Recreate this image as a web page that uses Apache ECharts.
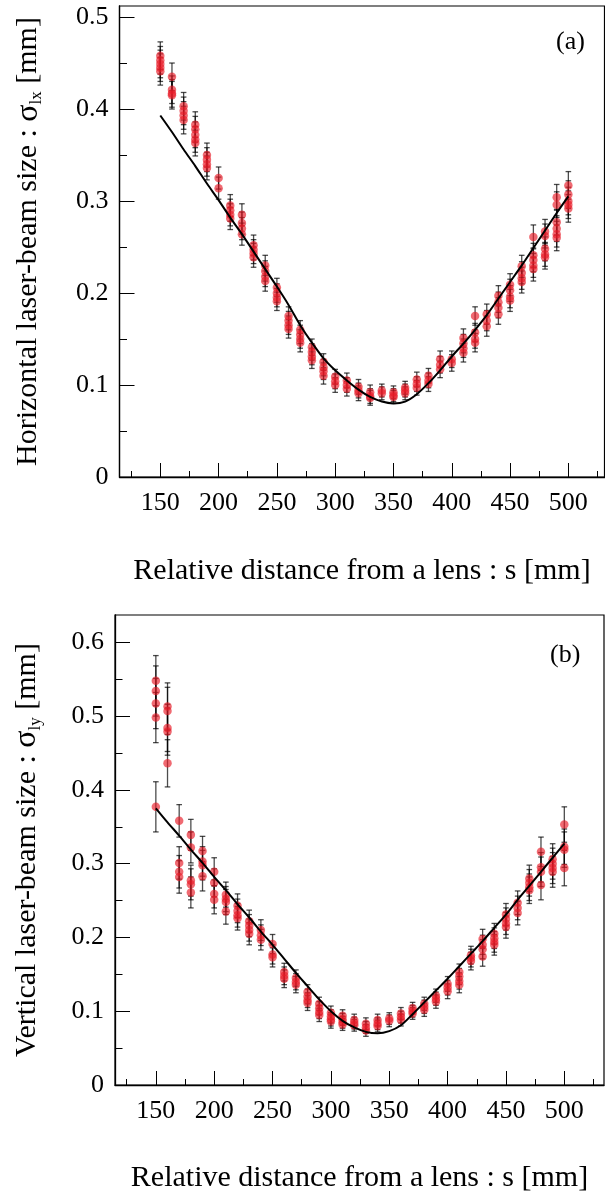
<!DOCTYPE html>
<html><head><meta charset="utf-8">
<script src="https://cdn.jsdelivr.net/npm/echarts@6/dist/echarts.min.js"></script>
<style>html,body{margin:0;padding:0;background:#fff}#c{width:605px;height:1196px}</style>
</head><body><div id="c"></div>
<script>
// Positions along the beam line (mm)
const positions = [150,160,170,180,190,200,210,220,230,240,250,260,270,280,290,300,310,320,330,340,350,360,370,380,390,400,410,420,430,440,450,460,470,480,490,500];
const xTickLabels = [150,200,250,300,350,400,450,500];
const xMinorTicks = [125,175,225,275,325,375,425,475,525];

// Panel (a): horizontal beam size measurements (mm)
const valsA = [
[0.458,0.453,0.449,0.445,0.441],[0.435,0.421,0.417,0.415],[0.403,0.398,0.393,0.388],[0.383,0.378,0.372,0.367,0.363],
[0.350,0.345,0.340,0.336],[0.325,0.314],[0.295,0.290,0.285,0.281],[0.285,0.276,0.270,0.264],
[0.252,0.247,0.243,0.239],[0.230,0.224,0.218,0.213],[0.206,0.200,0.195,0.191],[0.175,0.170,0.165,0.161],
[0.160,0.155,0.150,0.146],[0.141,0.136,0.131,0.127],[0.125,0.119,0.115,0.110],[0.109,0.104,0.100],
[0.105,0.100,0.096],[0.098,0.094,0.091],[0.092,0.088,0.086],[0.094,0.091],
[0.092,0.089,0.087],[0.097,0.094,0.091],[0.106,0.101,0.097],[0.110,0.105,0.101],
[0.128,0.122,0.117],[0.128,0.124],[0.151,0.145,0.140,0.135],[0.175,0.157,0.150,0.146],
[0.177,0.170,0.164],[0.197,0.190,0.184,0.177],[0.209,0.203,0.196,0.192],[0.229,0.222,0.216,0.212],
[0.261,0.241,0.236,0.230,0.226],[0.267,0.262,0.248,0.242,0.239],[0.304,0.296,0.277,0.270,0.264,0.260],[0.317,0.307,0.300,0.296,0.292]
];
const errA = [0.015,0.015,0.015,0.014,0.013,0.012,0.012,0.012,0.011,0.011,0.010,0.010,0.010,0.009,0.009,0.008,0.008,0.008,0.008,0.007,0.007,0.007,0.008,0.008,0.009,0.009,0.010,0.010,0.011,0.011,0.012,0.012,0.013,0.013,0.014,0.015];
const fitA = [0.393,0.375,0.356,0.338,0.319,0.301,0.282,0.264,0.245,0.226,0.207,0.187,0.165,0.146,0.129,0.116,0.105,0.095,0.087,0.082,0.080,0.082,0.090,0.102,0.116,0.131,0.145,0.160,0.176,0.194,0.212,0.230,0.249,0.268,0.287,0.305];

// Panel (b): vertical beam size measurements (mm)
const valsB = [
[0.548,0.534,0.517,0.498,0.377],[0.513,0.507,0.484,0.479,0.436],[0.358,0.301,0.289,0.282],[0.339,0.322,0.277,0.272,0.261],
[0.317,0.303,0.298,0.283],[0.289,0.274,0.259,0.251],[0.258,0.252,0.248,0.235],[0.243,0.236,0.230,0.226],
[0.222,0.216,0.210,0.205],[0.210,0.203,0.197],[0.191,0.177,0.173],[0.153,0.148,0.144],
[0.145,0.140,0.136],[0.126,0.120,0.115,0.111],[0.110,0.104,0.099,0.095],[0.098,0.093,0.089,0.086],
[0.094,0.089,0.085,0.082],[0.088,0.084,0.081],[0.083,0.078,0.074],[0.088,0.083,0.080],
[0.090,0.087],[0.097,0.092,0.088],[0.104,0.100,0.097],[0.110,0.106,0.102],
[0.121,0.117,0.113],[0.137,0.132,0.127],[0.153,0.147,0.141,0.136],[0.176,0.172,0.168],
[0.198,0.190,0.184,0.174],[0.205,0.199,0.194,0.190],[0.231,0.225,0.219,0.214],[0.247,0.240,0.233],
[0.280,0.274,0.268,0.264],[0.316,0.295,0.289,0.271],[0.306,0.300,0.294,0.289],[0.353,0.323,0.319,0.294]
];
const errB = [0.034,0.032,0.022,0.021,0.020,0.019,0.017,0.016,0.015,0.014,0.013,0.012,0.011,0.010,0.009,0.009,0.008,0.008,0.008,0.008,0.008,0.008,0.008,0.009,0.009,0.010,0.011,0.012,0.013,0.014,0.015,0.016,0.018,0.020,0.021,0.024];
const fitB = [0.375,0.356,0.338,0.319,0.301,0.282,0.264,0.245,0.227,0.208,0.190,0.171,0.152,0.134,0.116,0.100,0.087,0.078,0.072,0.070,0.073,0.081,0.096,0.112,0.128,0.144,0.161,0.178,0.195,0.213,0.231,0.251,0.270,0.289,0.308,0.327];

const yTicksA = [0,0.1,0.2,0.3,0.4,0.5];
const yMinorA = [0.05,0.15,0.25,0.35,0.45];
const yTicksB = [0,0.1,0.2,0.3,0.4,0.5,0.6];
const yMinorB = [0.05,0.15,0.25,0.35,0.45,0.55];

const FONT = 'Liberation Serif';
const chart = echarts.init(document.getElementById('c'));

function xAxes(gi, xmin, xmax, gap) {
  return [
    {type:'value', gridIndex:gi, position:'bottom', min:xmin, max:xmax,
     axisLine:{show:true, onZero:false, lineStyle:{color:'#000', width:1.3}},
     axisTick:{show:true, inside:true, length:14, customValues:xTickLabels, lineStyle:{color:'#000', width:1}},
     axisLabel:{show:true, customValues:xTickLabels, margin:13, fontFamily:FONT, fontSize:26, color:'#000'},
     splitLine:{show:false},
     name:'Relative distance from a lens : s [mm]', nameLocation:'middle', nameGap:gap,
     nameTextStyle:{fontFamily:FONT, fontSize:30, color:'#000'}},
    {type:'value', gridIndex:gi, position:'bottom', min:xmin, max:xmax,
     axisLine:{show:false}, axisLabel:{show:false}, splitLine:{show:false},
     axisTick:{show:true, inside:true, length:6, customValues:xMinorTicks, lineStyle:{color:'#000', width:1}}}
  ];
}
function yAxes(gi, ymax, ticks, minor, nameRich, gap) {
  return [
    {type:'value', gridIndex:gi, position:'left', min:0, max:ymax,
     axisLine:{show:true, onZero:false, lineStyle:{color:'#000', width:1.3}},
     axisTick:{show:true, inside:true, length:15, customValues:ticks, lineStyle:{color:'#000', width:1}},
     axisLabel:{show:true, customValues:ticks, margin:11, fontFamily:FONT, fontSize:26, color:'#000',
       formatter: v => v===0 ? '0' : v.toFixed(1)},
     splitLine:{show:false},
     name:nameRich, nameLocation:'middle', nameRotate:90, nameGap:gap,
     nameTextStyle:{fontFamily:FONT, fontSize:30, color:'#000',
       rich:{t:{fontFamily:FONT, fontSize:30, lineHeight:34, verticalAlign:'middle'},
             g:{fontFamily:FONT, fontSize:32, lineHeight:34, verticalAlign:'middle'},
             sub:{fontFamily:FONT, fontSize:17, lineHeight:17, verticalAlign:'bottom'}}}},
    {type:'value', gridIndex:gi, position:'left', min:0, max:ymax,
     axisLine:{show:false}, axisLabel:{show:false}, splitLine:{show:false},
     axisTick:{show:true, inside:true, length:7.5, customValues:minor, lineStyle:{color:'#000', width:1}}}
  ];
}

function pointData(vals) {
  const d = [];
  positions.forEach((s,i)=>vals[i].forEach(v=>d.push([s,v])));
  return d;
}
function errData(vals, errs) {
  const d = [];
  positions.forEach((s,i)=>vals[i].forEach(v=>d.push([s, v-errs[i], v+errs[i]])));
  return d;
}
function errSeries(gi, vals, errs) {
  return {type:'custom', xAxisIndex:gi*2, yAxisIndex:gi*2, z:3, silent:true, clip:false,
    data: errData(vals, errs), encode:{x:0, y:[1,2]},
    renderItem(params, api) {
      const x = api.value(0), lo = api.value(1), hi = api.value(2);
      const p1 = api.coord([x, lo]), p2 = api.coord([x, hi]);
      const w = 2.8, st = {stroke:'rgba(0,0,0,0.7)', lineWidth:1.3};
      return {type:'group', children:[
        {type:'line', shape:{x1:p1[0], y1:p1[1], x2:p2[0], y2:p2[1]}, style:st},
        {type:'line', shape:{x1:p1[0]-w, y1:p1[1], x2:p1[0]+w, y2:p1[1]}, style:st},
        {type:'line', shape:{x1:p2[0]-w, y1:p2[1], x2:p2[0]+w, y2:p2[1]}, style:st}
      ]};
    }};
}

const dotStyle = {color:'rgba(232,28,40,0.82)'};
const option = {
  animation:false,
  backgroundColor:'#fff',
  grid:[
    {left:119.5, top:6, width:485, height:471, show:true, borderColor:'#000', borderWidth:1.2, backgroundColor:'transparent'},
    {left:115, top:615, width:489, height:470, show:true, borderColor:'#000', borderWidth:1.2, backgroundColor:'transparent'}
  ],
  xAxis:[...xAxes(0,115,531,79), ...xAxes(1,115,534,78)],
  yAxis:[
    ...yAxes(0, 0.512, yTicksA, yMinorA, '{t|Horizontal laser-beam size : }{g|σ}{sub|lx}{t| [mm]}', 74),
    ...yAxes(1, 0.637, yTicksB, yMinorB, '{t|Vertical laser-beam size : }{g|σ}{sub|ly}{t| [mm]}', 71)
  ],
  graphic:[
    {type:'text', left:556, top:29, style:{text:'(a)', font:'26px "Liberation Serif"', fill:'#000'}},
    {type:'text', left:550, top:642, style:{text:'(b)', font:'26px "Liberation Serif"', fill:'#000'}}
  ],
  series:[
    errSeries(0, valsA, errA),
    {type:'scatter', xAxisIndex:0, yAxisIndex:0, z:4, symbolSize:8.5, data:pointData(valsA), itemStyle:dotStyle},
    {type:'line', xAxisIndex:0, yAxisIndex:0, z:6, smooth:0.3, showSymbol:false, symbol:'none',
     data:positions.map((s,i)=>[s,fitA[i]]), lineStyle:{color:'#000', width:2}},
    errSeries(1, valsB, errB),
    {type:'scatter', xAxisIndex:2, yAxisIndex:2, z:4, symbolSize:8.5, data:pointData(valsB), itemStyle:dotStyle},
    {type:'line', xAxisIndex:2, yAxisIndex:2, z:6, smooth:0.3, showSymbol:false, symbol:'none',
     data:positions.map((s,i)=>[s,fitB[i]]), lineStyle:{color:'#000', width:2}}
  ]
};
chart.setOption(option);
</script></body></html>
